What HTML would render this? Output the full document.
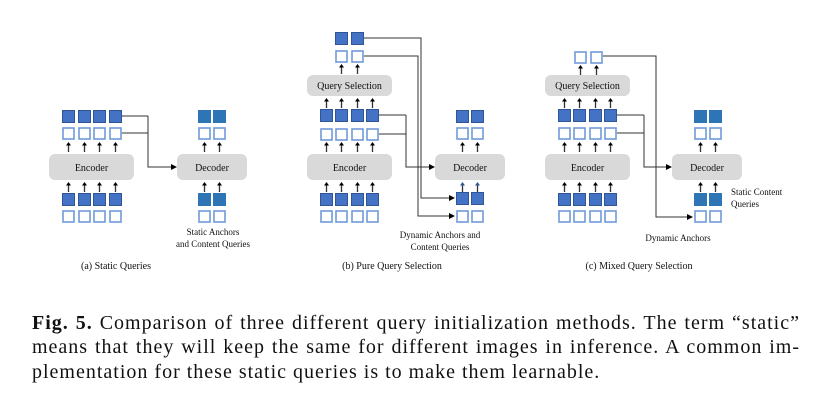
<!DOCTYPE html>
<html><head><meta charset="utf-8"><style>
body{margin:0;width:829px;height:404px;background:#fff;overflow:hidden;position:relative}
svg{position:absolute;left:0;top:0}
.cap{position:absolute;left:32px;width:768px;font-family:"Liberation Serif",serif;font-size:20px;letter-spacing:1px;line-height:22px;color:#111;white-space:nowrap}
.j{text-align:justify;text-align-last:justify;white-space:normal}
</style></head><body>
<svg width="829" height="404" viewBox="0 0 829 404" font-family="Liberation Serif, serif">
<defs>
<marker id="ah" markerWidth="6" markerHeight="6" refX="5" refY="3" orient="auto" markerUnits="userSpaceOnUse"><path d="M0,0 L6,3 L0,6 z" fill="#000"/></marker>
<g id="F"><rect x="0.5" y="0.5" width="12" height="12" fill="#4472c4" stroke="#2f5597" stroke-width="1"/></g>
<g id="T"><rect x="0.5" y="0.5" width="12" height="12" fill="#2e75b6" stroke="#2e75b6" stroke-width="1"/></g>
<g id="O"><rect x="1" y="1" width="11" height="11" fill="#fff" stroke="#6f9ad8" stroke-width="1.6"/></g>
<g id="A"><line x1="6.5" y1="10" x2="6.5" y2="2" stroke="#333" stroke-width="1.3"/><path d="M4,3.5 L6.5,0 L9,3.5z" fill="#000"/></g>
<g id="AB"><line x1="6.5" y1="10" x2="6.5" y2="2" stroke="#333" stroke-width="1.3"/><path d="M4,3.5 L6.5,0 L9,3.5z" fill="#2f5597"/></g>
</defs>
<g font-size="10" text-anchor="middle" fill="#111">
<g>
<use href="#F" x="62" y="110"/><use href="#F" x="78" y="110"/><use href="#F" x="93" y="110"/><use href="#F" x="109" y="110"/>
<use href="#O" x="62" y="127"/><use href="#O" x="78" y="127"/><use href="#O" x="93" y="127"/><use href="#O" x="109" y="127"/>
<use href="#A" x="62" y="142"/><use href="#A" x="78" y="142"/><use href="#A" x="93" y="142"/><use href="#A" x="109" y="142"/>
<rect x="49" y="154" width="85" height="26" rx="6" fill="#d9d9d9"/><text x="91.5" y="171">Encoder</text>
<use href="#A" x="62" y="182"/><use href="#A" x="78" y="182"/><use href="#A" x="93" y="182"/><use href="#A" x="109" y="182"/>
<use href="#F" x="62" y="193"/><use href="#F" x="78" y="193"/><use href="#F" x="93" y="193"/><use href="#F" x="109" y="193"/>
<use href="#O" x="62" y="210"/><use href="#O" x="78" y="210"/><use href="#O" x="93" y="210"/><use href="#O" x="109" y="210"/>
<polyline points="122,116 148,116" fill="none" stroke="#333"/>
<polyline points="122,133 148,133" fill="none" stroke="#333"/>
<polyline points="148,116 148,167 176,167" fill="none" stroke="#333" marker-end="url(#ah)"/>
<rect x="177" y="154" width="70" height="26" rx="6" fill="#d9d9d9"/><text x="212" y="171">Decoder</text>
<use href="#T" x="198" y="110"/><use href="#T" x="213" y="110"/>
<use href="#O" x="198" y="127"/><use href="#O" x="213" y="127"/>
<use href="#A" x="198" y="142"/><use href="#A" x="213" y="142"/>
<use href="#A" x="198" y="182"/><use href="#A" x="213" y="182"/>
<use href="#T" x="198" y="193"/><use href="#T" x="213" y="193"/>
<use href="#O" x="198" y="210"/><use href="#O" x="213" y="210"/>
<text x="213" y="235" font-size="9">Static Anchors</text>
<text x="213" y="247" font-size="9">and Content Queries</text>
<text x="116" y="269" font-size="10">(a) Static Queries</text>
</g>
<g>
<use href="#F" x="335" y="32"/><use href="#F" x="351" y="32"/>
<use href="#O" x="335" y="50"/><use href="#O" x="351" y="50"/>
<use href="#A" x="335" y="64"/><use href="#A" x="351" y="64"/>
<rect x="307" y="75" width="85" height="21" rx="6" fill="#d9d9d9"/><text x="349.5" y="89">Query Selection</text>
<use href="#A" x="320" y="98"/><use href="#A" x="335" y="98"/><use href="#A" x="351" y="98"/><use href="#A" x="366" y="98"/>
<use href="#F" x="320" y="109"/><use href="#F" x="335" y="109"/><use href="#F" x="351" y="109"/><use href="#F" x="366" y="109"/>
<use href="#O" x="320" y="128"/><use href="#O" x="335" y="128"/><use href="#O" x="351" y="128"/><use href="#O" x="366" y="128"/>
<use href="#A" x="320" y="142"/><use href="#A" x="335" y="142"/><use href="#A" x="351" y="142"/><use href="#A" x="366" y="142"/>
<rect x="307" y="154" width="85" height="26" rx="6" fill="#d9d9d9"/><text x="349.5" y="171">Encoder</text>
<use href="#A" x="320" y="182"/><use href="#A" x="335" y="182"/><use href="#A" x="351" y="182"/><use href="#A" x="366" y="182"/>
<use href="#F" x="320" y="193"/><use href="#F" x="335" y="193"/><use href="#F" x="351" y="193"/><use href="#F" x="366" y="193"/>
<use href="#O" x="320" y="210"/><use href="#O" x="335" y="210"/><use href="#O" x="351" y="210"/><use href="#O" x="366" y="210"/>
<polyline points="364,38 421,38 421,198 454,198" fill="none" stroke="#333" marker-end="url(#ah)"/>
<polyline points="364,56 418,56 418,216 454,216" fill="none" stroke="#333" marker-end="url(#ah)"/>
<polyline points="379,115 406,115" fill="none" stroke="#333"/>
<polyline points="379,134 406,134" fill="none" stroke="#333"/>
<polyline points="406,115 406,167 434,167" fill="none" stroke="#333" marker-end="url(#ah)"/>
<rect x="435" y="154" width="70" height="26" rx="6" fill="#d9d9d9"/><text x="470" y="171">Decoder</text>
<use href="#F" x="456" y="110"/><use href="#F" x="471" y="110"/>
<use href="#O" x="456" y="127"/><use href="#O" x="471" y="127"/>
<use href="#A" x="456" y="142"/><use href="#A" x="471" y="142"/>
<use href="#AB" x="456" y="182"/><use href="#AB" x="471" y="182"/>
<use href="#F" x="456" y="192"/><use href="#F" x="471" y="192"/>
<use href="#O" x="456" y="210"/><use href="#O" x="471" y="210"/>
<text x="440" y="238" font-size="9">Dynamic Anchors and</text>
<text x="440" y="250" font-size="9">Content Queries</text>
<text x="392" y="269" font-size="10">(b) Pure Query Selection</text>
</g>
<g>
<use href="#O" x="574" y="51"/><use href="#O" x="590" y="51"/>
<use href="#A" x="574" y="65"/><use href="#A" x="590" y="65"/>
<rect x="545" y="75" width="85" height="21" rx="6" fill="#d9d9d9"/><text x="587.5" y="89">Query Selection</text>
<use href="#A" x="558" y="98"/><use href="#A" x="573" y="98"/><use href="#A" x="589" y="98"/><use href="#A" x="604" y="98"/>
<use href="#F" x="558" y="109"/><use href="#F" x="573" y="109"/><use href="#F" x="589" y="109"/><use href="#F" x="604" y="109"/>
<use href="#O" x="558" y="127"/><use href="#O" x="573" y="127"/><use href="#O" x="589" y="127"/><use href="#O" x="604" y="127"/>
<use href="#A" x="558" y="142"/><use href="#A" x="573" y="142"/><use href="#A" x="589" y="142"/><use href="#A" x="604" y="142"/>
<rect x="545" y="154" width="85" height="26" rx="6" fill="#d9d9d9"/><text x="587.5" y="171">Encoder</text>
<use href="#A" x="558" y="182"/><use href="#A" x="573" y="182"/><use href="#A" x="589" y="182"/><use href="#A" x="604" y="182"/>
<use href="#F" x="558" y="193"/><use href="#F" x="573" y="193"/><use href="#F" x="589" y="193"/><use href="#F" x="604" y="193"/>
<use href="#O" x="558" y="210"/><use href="#O" x="573" y="210"/><use href="#O" x="589" y="210"/><use href="#O" x="604" y="210"/>
<polyline points="603,56 656,56 656,217 692,217" fill="none" stroke="#333" marker-end="url(#ah)"/>
<polyline points="617,115 644,115" fill="none" stroke="#333"/>
<polyline points="617,133 644,133" fill="none" stroke="#333"/>
<polyline points="644,115 644,167 671,167" fill="none" stroke="#333" marker-end="url(#ah)"/>
<rect x="672" y="154" width="70" height="26" rx="6" fill="#d9d9d9"/><text x="707" y="171">Decoder</text>
<use href="#T" x="694" y="110"/><use href="#T" x="709" y="110"/>
<use href="#O" x="694" y="127"/><use href="#O" x="709" y="127"/>
<use href="#A" x="694" y="142"/><use href="#A" x="709" y="142"/>
<use href="#A" x="694" y="182"/><use href="#A" x="709" y="182"/>
<use href="#T" x="694" y="193"/><use href="#T" x="709" y="193"/>
<use href="#O" x="694" y="210"/><use href="#O" x="709" y="210"/>
<text x="731" y="195" font-size="9" text-anchor="start">Static Content</text>
<text x="731" y="207" font-size="9" text-anchor="start">Queries</text>
<text x="678" y="241" font-size="9">Dynamic Anchors</text>
<text x="639" y="269" font-size="10">(c) Mixed Query Selection</text>
</g>
</g>
</svg>
<div class="cap j" style="top:312px"><b>Fig. 5.</b> Comparison of three different query initialization methods. The term “static”</div>
<div class="cap j" style="top:336px">means that they will keep the same for different images in inference. A common im-</div>
<div class="cap" style="top:361px">plementation for these static queries is to make them learnable.</div>
</body></html>
